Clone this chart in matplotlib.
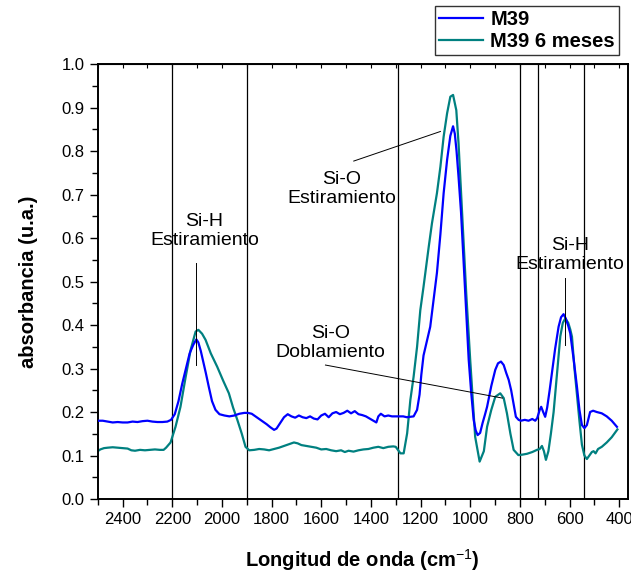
import matplotlib
matplotlib.use("Agg")
import matplotlib.pyplot as plt
from matplotlib.ticker import MultipleLocator, FormatStrFormatter

plt.rcParams["font.family"] = ["Liberation Sans", "DejaVu Sans"]
plt.rcParams["mathtext.fontset"] = "custom"
plt.rcParams["mathtext.rm"] = "Liberation Sans"

# FTIR spectra: wavenumber (cm-1) and absorbance
m39_wn = [2500, 2480, 2460, 2440, 2420, 2400, 2380, 2360, 2340, 2320, 2300, 2280, 2260, 2240,
          2220, 2205, 2190, 2175, 2160, 2145, 2130, 2115, 2103, 2095, 2085, 2075, 2065, 2053,
          2040, 2026, 2010, 1990, 1970, 1950, 1930, 1910, 1895, 1880, 1860, 1840, 1820, 1805,
          1790, 1780, 1765, 1750, 1735, 1720, 1705, 1690, 1675, 1660, 1645, 1630, 1615, 1600,
          1585, 1570, 1555, 1540, 1525, 1510, 1495, 1480, 1465, 1450, 1435, 1420, 1405, 1390,
          1378, 1370, 1360, 1345, 1330, 1315, 1300, 1285, 1270, 1255, 1240, 1228, 1214, 1204,
          1197, 1188, 1175, 1161, 1147, 1134, 1120, 1107, 1093, 1080, 1069, 1062, 1055, 1047,
          1037, 1027, 1016, 1006, 996, 986, 978, 970, 960, 950, 940, 932, 915, 899, 888, 876,
          865, 855, 845, 835, 825, 816, 805, 796, 780, 765, 750, 738, 730, 720, 714, 706, 698,
          690, 680, 671, 658, 644, 634, 624, 615, 605, 597, 583, 570, 560, 550, 540, 530, 517,
          505, 490, 470, 450, 430, 409]
m39_abs = [0.180, 0.180, 0.178, 0.176, 0.177, 0.176, 0.176, 0.178, 0.177, 0.179, 0.180, 0.178,
           0.177, 0.177, 0.178, 0.182, 0.195, 0.225, 0.265, 0.300, 0.335, 0.355, 0.367, 0.360,
           0.340, 0.315, 0.290, 0.258, 0.225, 0.205, 0.195, 0.192, 0.190, 0.192, 0.196, 0.198,
           0.198, 0.196, 0.188, 0.180, 0.172, 0.165, 0.159, 0.162, 0.175, 0.188, 0.195, 0.190,
           0.187, 0.192, 0.188, 0.186, 0.190, 0.185, 0.183, 0.192, 0.196, 0.188, 0.197, 0.200,
           0.195, 0.198, 0.203, 0.197, 0.202, 0.195, 0.193, 0.190, 0.185, 0.180, 0.176, 0.190,
           0.196, 0.190, 0.192, 0.190, 0.190, 0.190, 0.190, 0.188, 0.189, 0.190, 0.205, 0.240,
           0.285, 0.330, 0.362, 0.396, 0.460, 0.520, 0.609, 0.703, 0.780, 0.835, 0.857, 0.840,
           0.800, 0.741, 0.660, 0.550, 0.430, 0.320, 0.245, 0.182, 0.158, 0.147, 0.152, 0.175,
           0.195, 0.212, 0.260, 0.297, 0.312, 0.316, 0.308, 0.290, 0.274, 0.250, 0.218, 0.189,
           0.182, 0.180, 0.182, 0.180, 0.184, 0.180, 0.186, 0.205, 0.212, 0.200, 0.189, 0.210,
           0.250, 0.289, 0.345, 0.396, 0.418, 0.425, 0.415, 0.398, 0.381, 0.320, 0.258, 0.205,
           0.170, 0.163, 0.170, 0.200, 0.203, 0.200, 0.197, 0.190, 0.180, 0.166]

m39_6m_wn = [2500, 2490, 2475, 2460, 2440, 2420, 2400, 2380, 2365, 2350, 2330, 2310, 2290, 2270,
             2250, 2235, 2225, 2207, 2187, 2167, 2146, 2126, 2106, 2095, 2080, 2066, 2045, 2019,
             1995, 1972, 1955, 1938, 1920, 1905, 1890, 1870, 1850, 1830, 1810, 1790, 1770, 1750,
             1730, 1710, 1695, 1680, 1660, 1640, 1620, 1600, 1580, 1560, 1540, 1520, 1505, 1490,
             1470, 1450, 1430, 1410, 1390, 1370, 1350, 1330, 1310, 1300, 1290, 1281, 1268, 1254,
             1241, 1228, 1214, 1201, 1188, 1167, 1154, 1134, 1120, 1107, 1093, 1080, 1069, 1056,
             1047, 1033, 1016, 1000, 980, 962, 945, 932, 915, 899, 879, 865, 852, 838, 825, 806,
             790, 771, 750, 731, 720, 711, 703, 695, 685, 675, 664, 650, 637, 627, 617, 605, 597,
             590, 580, 570, 560, 550, 540, 530, 520, 510, 503, 495, 485, 470, 450, 430, 407]
m39_6m_abs = [0.110, 0.114, 0.117, 0.118, 0.119, 0.118, 0.117, 0.116, 0.112, 0.111, 0.113, 0.112,
              0.113, 0.114, 0.113, 0.113, 0.118, 0.130, 0.166, 0.212, 0.281, 0.343, 0.385, 0.389,
              0.380, 0.366, 0.335, 0.304, 0.272, 0.243, 0.210, 0.182, 0.150, 0.120, 0.112, 0.113,
              0.115, 0.114, 0.112, 0.115, 0.118, 0.122, 0.126, 0.130, 0.128, 0.124, 0.122, 0.120,
              0.118, 0.114, 0.115, 0.112, 0.110, 0.112, 0.108, 0.111, 0.109, 0.112, 0.114, 0.115,
              0.118, 0.120, 0.117, 0.120, 0.121, 0.120, 0.112, 0.105, 0.105, 0.151, 0.228, 0.281,
              0.350, 0.434, 0.488, 0.580, 0.634, 0.703, 0.764, 0.833, 0.887, 0.925, 0.929, 0.894,
              0.818, 0.664, 0.473, 0.320, 0.143, 0.086, 0.110, 0.166, 0.205, 0.235, 0.243, 0.232,
              0.197, 0.150, 0.113, 0.101, 0.102, 0.104, 0.108, 0.113, 0.115, 0.122, 0.110, 0.090,
              0.110, 0.150, 0.200, 0.290, 0.374, 0.405, 0.415, 0.405, 0.390, 0.373, 0.300, 0.240,
              0.180, 0.125, 0.100, 0.092, 0.100, 0.108, 0.110, 0.105, 0.115, 0.120, 0.130, 0.142,
              0.160]

band_edges = [2200, 1900, 1290, 800, 725, 540]

# band labels: text, text position, pointer start, pointer end
band_labels = [
    ("Si-H\nEstiramiento", (2070, 0.616), (2103, 0.543), (2103, 0.308)),
    ("Si-O\nEstiramiento", (1519, 0.713), (1469, 0.777), (1120, 0.845)),
    ("Si-O\nDoblamiento", (1563, 0.359), (1583, 0.308), (870, 0.232)),
    ("Si-H\nEstiramiento", (597, 0.561), (617, 0.508), (617, 0.354)),
]

fig = plt.figure(figsize=(6.31, 5.72), dpi=100)
ax = fig.add_axes([0.155, 0.1276, 0.840, 0.7604])

for xv in band_edges:
    ax.axvline(xv, color="black", lw=0.9, zorder=1)

ax.plot(m39_wn, m39_abs, color="#0000FF", lw=1.6, label="M39", zorder=3)
ax.plot(m39_6m_wn, m39_6m_abs, color="#008080", lw=1.6, label="M39 6 meses", zorder=2)

for text, tpos, p0, p1 in band_labels:
    ax.text(tpos[0], tpos[1], text, ha="center", va="center", fontsize=14,
            linespacing=1.15, zorder=4)
    ax.plot([p0[0], p1[0]], [p0[1], p1[1]], color="black", lw=0.7, zorder=4)

ax.set_xlim(2500, 365)
ax.set_ylim(0.0, 1.0)
ax.xaxis.set_major_locator(MultipleLocator(200))
ax.xaxis.set_minor_locator(MultipleLocator(100))
ax.yaxis.set_major_locator(MultipleLocator(0.1))
ax.yaxis.set_minor_locator(MultipleLocator(0.05))
ax.yaxis.set_major_formatter(FormatStrFormatter("%.1f"))
ax.tick_params(axis="both", which="major", direction="out", length=6, width=1,
               labelsize=12)
ax.tick_params(axis="both", which="minor", direction="out", length=4, width=1)
ax.tick_params(axis="x", which="both", top=False)
for sp in ax.spines.values():
    sp.set_linewidth(1.4)

# short inward ticks on the top spine
top = ax.secondary_xaxis("top")
top.xaxis.set_major_locator(MultipleLocator(100))
top.tick_params(direction="in", length=3, width=0.8, labeltop=False)

ax.set_xlabel("Longitud de onda (cm$^{-1}$)", fontsize=14.5, fontweight="bold", labelpad=14)
ax.set_ylabel("absorbancia (u.a.)", fontsize=14.5, fontweight="bold", labelpad=17)

leg = fig.legend(loc="upper right", bbox_to_anchor=(0.981, 0.99), frameon=True,
                 fancybox=False, edgecolor="black", prop={"weight": "bold", "size": 14.5},
                 handlelength=2.2, handletextpad=0.35, labelspacing=0.15,
                 borderpad=0.2, borderaxespad=0.0)
leg.get_frame().set_linewidth(1.0)

fig.savefig("out.png", dpi=100)
